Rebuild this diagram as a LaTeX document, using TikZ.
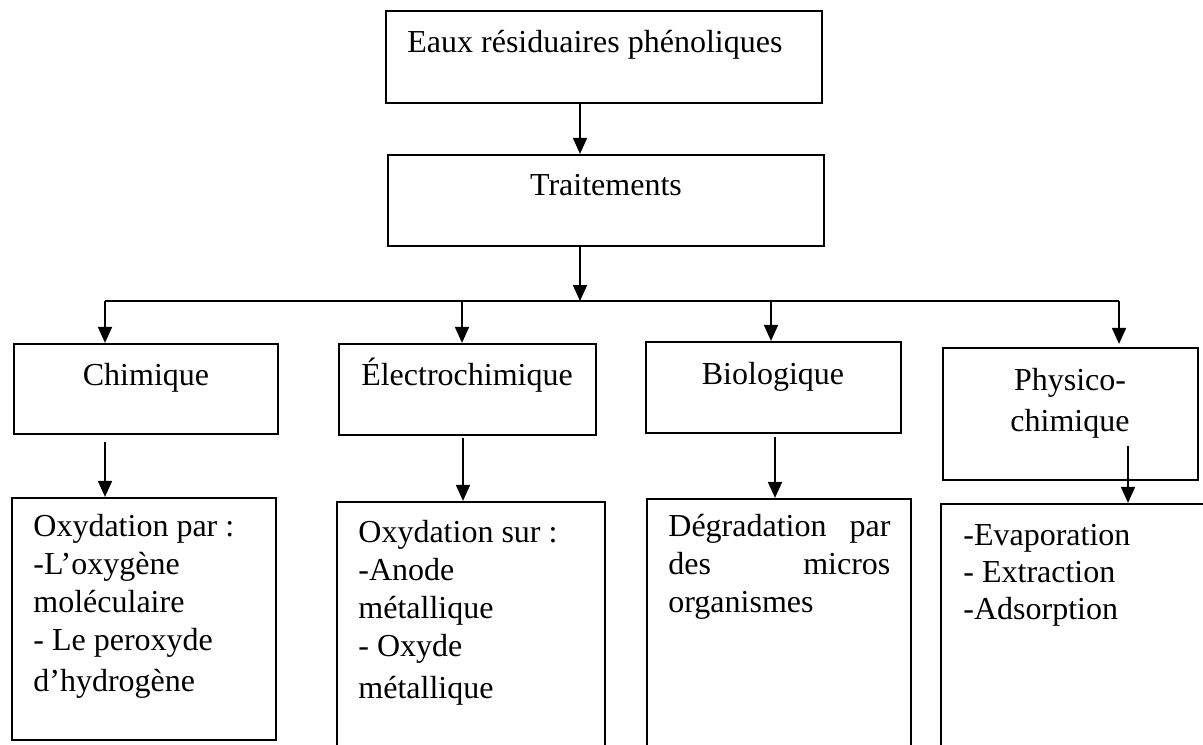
\documentclass[tikz,border=0pt]{standalone}
\usepackage{fontspec}
\setmainfont{Liberation Serif}
\usetikzlibrary{arrows.meta,fit}
\begin{document}
\begin{tikzpicture}[x=0.5pt,y=-0.5pt,
  box/.style={draw, line width=1.1pt, inner sep=0pt},
  wire/.style={line width=0.9pt},
  conn/.style={line width=0.9pt, -{Triangle[width=7pt,length=8pt]}},
  lbl/.style={inner sep=0pt, anchor=base, font=\fontsize{16}{19}\selectfont},
  txt/.style={inner sep=0pt, anchor=base west, align=left, font=\fontsize{16}{19}\selectfont}]
\useasboundingbox (0,0) rectangle (1203,744);
\clip (0,0) rectangle (1203,744);

% boxes
\node[box, fit={(386,11) (822,103)}] (eaux) {};
\node[box, fit={(388,155) (824,246)}] (trt) {};
\node[box, fit={(14,344) (278,434)}] (chim) {};
\node[box, fit={(339,344) (596,435)}] (elec) {};
\node[box, fit={(646,342) (901,433)}] (bio) {};
\node[box, fit={(943,348) (1198,480)}] (phys) {};
\node[box, fit={(12,498) (276,740)}] (chimB) {};
\node[box, fit={(337,502) (605,770)}] (elecB) {};
\node[box, fit={(647,499) (911,770)}] (bioB) {};
\node[box, fit={(941,504) (1230,770)}] (physB) {};

% texts (multi-line nodes: base = baseline of last line)
\node[txt] (teaux) at (407,52) {Eaux résiduaires phénoliques};
\node[lbl] (ttrt) at (606,195) {Traitements};
\node[lbl] (tchim) at (146,385) {Chimique};
\node[lbl] (telec) at (467,385) {Électrochimique};
\node[lbl] (tbio) at (773,384) {Biologique};
\node[lbl, align=center] (tphys) at (1070,431) {Physico-\\[1.5pt]chimique};
\node[txt] (tchimB) at (33,691) {Oxydation par :\\-L’oxygène\\moléculaire\\- Le peroxyde\\[1.5pt]d’hydrogène};
\node[txt] (telecB) at (358,698) {Oxydation sur :\\-Anode\\métallique\\- Oxyde\\[2pt]métallique};
\node[txt] (tbioB) at (668,612) {\makebox[111pt][s]{Dégradation par}\\\makebox[111pt][s]{des micros}\\organismes};
\node[txt] (tphysB) at (963,619) {-Evaporation\\[-0.5pt]- Extraction\\[-0.5pt]-Adsorption};

% junction coordinates
\coordinate (j0) at (580,301);
\coordinate (h1) at (105,301);
\coordinate (h2) at (462,301);
\coordinate (h3) at (771,301);
\coordinate (h4) at (1119,301);
\coordinate (d1) at (105,442);
\coordinate (d2) at (463,438);
\coordinate (d3) at (775,437);
\coordinate (d4) at (1128,446);

% connectors
\draw[conn] (eaux.south -| j0) -- (trt.north -| j0);
\draw[conn] (trt.south -| j0) -- (j0);
\draw[wire] (h1) -- (h4);
\draw[conn] (h1) -- (chim.north -| h1);
\draw[conn] (h2) -- (elec.north -| h2);
\draw[conn] (h3) -- (bio.north -| h3);
\draw[conn] (h4) -- ([yshift=1.5pt]phys.north -| h4);
\draw[conn] (d1) -- (chimB.north -| d1);
\draw[conn] (d2) -- (elecB.north -| d2);
\draw[conn] (d3) -- (bioB.north -| d3);
\draw[conn] (d4) -- (physB.north -| d4);
\end{tikzpicture}
\end{document}
